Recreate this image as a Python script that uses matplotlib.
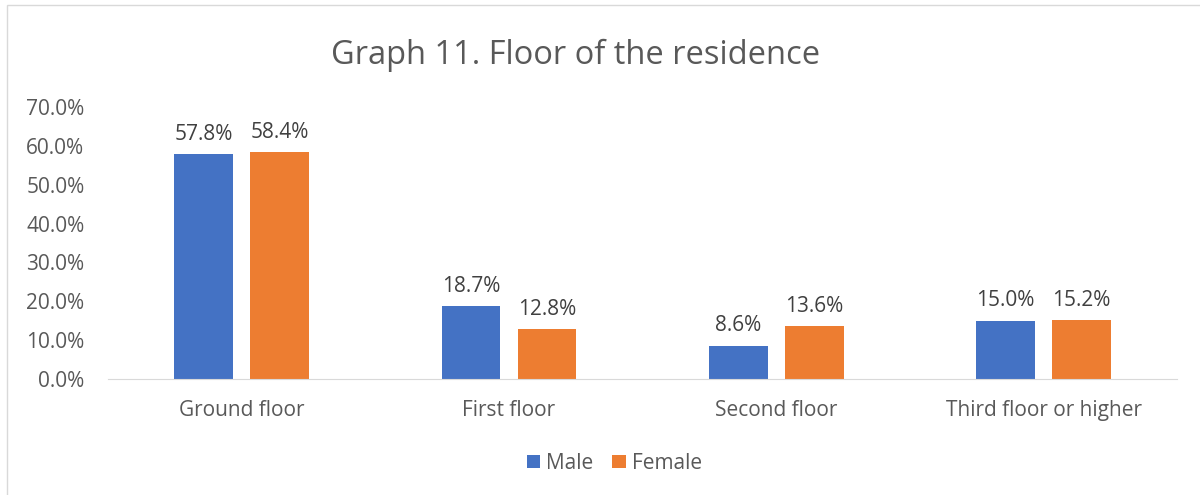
import matplotlib.pyplot as plt
import numpy as np

plt.rcParams['font.family'] = ['Open Sans', 'DejaVu Sans']

categories = ["Ground floor", "First floor", "Second floor", "Third floor or higher"]
male = [0.578, 0.187, 0.086, 0.150]
female = [0.584, 0.128, 0.136, 0.152]
series_names = ["Male", "Female"]
colors = ["#4472C4", "#ED7D31"]
text_col = "#595959"

fig = plt.figure(figsize=(12, 4.95), dpi=100)
ax = fig.add_axes([0.09, 0.2343, 0.891, 0.5495])

x = np.arange(len(categories))
w = 0.22
off = 0.142
b1 = ax.bar(x - off, male, w, color=colors[0], label=series_names[0])
b2 = ax.bar(x + off, female, w, color=colors[1], label=series_names[1])

for bars, vals in ((b1, male), (b2, female)):
    for b, v in zip(bars, vals):
        ax.text(b.get_x() + b.get_width() / 2, v + 0.024, "%.1f%%" % (v * 100),
                ha="center", va="bottom", fontsize=15, color="#404040")

ax.set_xlim(-0.5, 3.5)
ax.set_ylim(0, 0.7)
ax.set_yticks(np.arange(0, 0.71, 0.1))
ax.set_yticklabels(["%.1f%%" % (t * 100) for t in np.arange(0, 0.71, 0.1)])
ax.set_xticks(x)
ax.set_xticklabels(categories)
ax.tick_params(axis="both", length=0, labelsize=15, labelcolor=text_col)
ax.tick_params(axis="x", pad=15)
ax.tick_params(axis="y", pad=17)
for s in ["top", "right", "left"]:
    ax.spines[s].set_visible(False)
ax.spines["bottom"].set_color("#D9D9D9")

fig.text(0.48, 0.888, "Graph 11. Floor of the residence", ha="center", va="center",
         fontsize=23.5, color=text_col)

fig.legend(loc="center", bbox_to_anchor=(0.512, 0.064), ncol=2, frameon=False,
           fontsize=15, handlelength=0.65, handleheight=0.65, columnspacing=0.9,
           handletextpad=0.3, labelcolor=text_col)

fig.patches.append(plt.Rectangle((0.006, -0.01), 1.1, 1.0, transform=fig.transFigure,
                                 fill=False, edgecolor="#D9D9D9", linewidth=1))

fig.savefig("out.png", dpi=100)
